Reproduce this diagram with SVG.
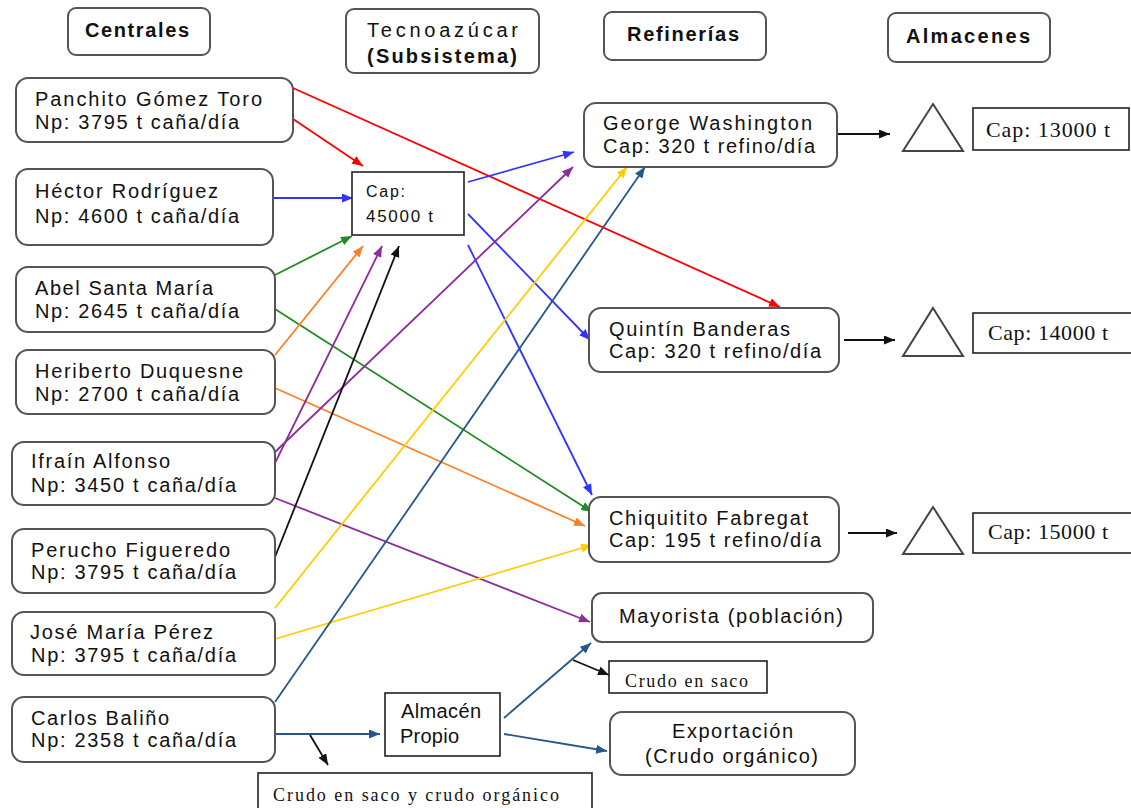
<svg xmlns="http://www.w3.org/2000/svg" width="1131" height="808" viewBox="0 0 1131 808">
<style>
.rn{fill:#fff;stroke:#555;stroke-width:2}
.sq{fill:#fff;stroke:#222;stroke-width:1.6}
.tri{fill:#fff;stroke:#444;stroke-width:2}
.t{font-family:"Liberation Sans",Arial,sans-serif;font-size:20px;fill:#111}
.b{font-family:"Liberation Sans",Arial,sans-serif;font-size:20px;font-weight:bold;fill:#111}
.s{font-family:"Liberation Serif","Times New Roman",serif;font-size:22px;fill:#111}
.s2{font-family:"Liberation Serif","Times New Roman",serif;font-size:18px;fill:#111}
.c line{fill:none;stroke-width:1.8}
</style>
<defs>
<marker id="mr" markerUnits="userSpaceOnUse" markerWidth="11" markerHeight="9" refX="11" refY="4.5" orient="auto"><path d="M0,0 L11,4.5 L0,9 z" fill="#ff0000"/></marker>
<marker id="mb" markerUnits="userSpaceOnUse" markerWidth="11" markerHeight="9" refX="11" refY="4.5" orient="auto"><path d="M0,0 L11,4.5 L0,9 z" fill="#3333ff"/></marker>
<marker id="mg" markerUnits="userSpaceOnUse" markerWidth="11" markerHeight="9" refX="11" refY="4.5" orient="auto"><path d="M0,0 L11,4.5 L0,9 z" fill="#228b22"/></marker>
<marker id="mo" markerUnits="userSpaceOnUse" markerWidth="11" markerHeight="9" refX="11" refY="4.5" orient="auto"><path d="M0,0 L11,4.5 L0,9 z" fill="#ff7f27"/></marker>
<marker id="mp" markerUnits="userSpaceOnUse" markerWidth="11" markerHeight="9" refX="11" refY="4.5" orient="auto"><path d="M0,0 L11,4.5 L0,9 z" fill="#8e2c9c"/></marker>
<marker id="mk" markerUnits="userSpaceOnUse" markerWidth="11" markerHeight="9" refX="11" refY="4.5" orient="auto"><path d="M0,0 L11,4.5 L0,9 z" fill="#111"/></marker>
<marker id="my" markerUnits="userSpaceOnUse" markerWidth="11" markerHeight="9" refX="11" refY="4.5" orient="auto"><path d="M0,0 L11,4.5 L0,9 z" fill="#ffcc00"/></marker>
<marker id="md" markerUnits="userSpaceOnUse" markerWidth="11" markerHeight="9" refX="11" refY="4.5" orient="auto"><path d="M0,0 L11,4.5 L0,9 z" fill="#27578a"/></marker>
</defs>
<rect width="1131" height="808" fill="#fff"/>

<!-- headers -->
<g id="h-centrales"><rect class="rn" x="68" y="8" width="142" height="47" rx="8"/><text class="b" x="85" y="37" textLength="104" lengthAdjust="spacing">Centrales</text></g>
<g id="h-tecno"><rect class="rn" x="346" y="9" width="193" height="64" rx="8"/><text class="t" x="367" y="37" textLength="151" lengthAdjust="spacing">Tecnoazúcar</text><text class="b" x="367" y="63" textLength="150" lengthAdjust="spacing">(Subsistema)</text></g>
<g id="h-refinerias"><rect class="rn" x="604" y="12" width="162" height="48" rx="8"/><text class="b" x="627" y="41" textLength="112" lengthAdjust="spacing">Refinerías</text></g>
<g id="h-almacenes"><rect class="rn" x="888" y="13" width="162" height="49" rx="8"/><text class="b" x="906" y="43" textLength="124" lengthAdjust="spacing">Almacenes</text></g>

<!-- connectors -->
<g id="connectors" class="c">
<line x1="293" y1="88" x2="780" y2="307" stroke="#ff0000" marker-end="url(#mr)"/>
<line x1="293" y1="119" x2="363" y2="166" stroke="#ff0000" marker-end="url(#mr)"/>
<line x1="273" y1="198" x2="353" y2="198" stroke="#3333ff" marker-end="url(#mb)"/>
<line x1="468" y1="182" x2="574" y2="152" stroke="#3333ff" marker-end="url(#mb)"/>
<line x1="468" y1="214" x2="590" y2="340" stroke="#3333ff" marker-end="url(#mb)"/>
<line x1="468" y1="245" x2="592" y2="495" stroke="#3333ff" marker-end="url(#mb)"/>
<line x1="275" y1="275" x2="352" y2="236" stroke="#228b22" marker-end="url(#mg)"/>
<line x1="275" y1="309" x2="592" y2="512" stroke="#228b22" marker-end="url(#mg)"/>
<line x1="275" y1="355" x2="363" y2="246" stroke="#ff7f27" marker-end="url(#mo)"/>
<line x1="275" y1="388" x2="585" y2="526" stroke="#ff7f27" marker-end="url(#mo)"/>
<line x1="275" y1="463" x2="382" y2="246" stroke="#8e2c9c" marker-end="url(#mp)"/>
<line x1="275" y1="452" x2="573" y2="167" stroke="#8e2c9c" marker-end="url(#mp)"/>
<line x1="275" y1="498" x2="590" y2="622" stroke="#8e2c9c" marker-end="url(#mp)"/>
<line x1="275" y1="557" x2="399" y2="246" stroke="#111" marker-end="url(#mk)"/>
<line x1="275" y1="608" x2="627" y2="167" stroke="#ffcc00" marker-end="url(#my)"/>
<line x1="275" y1="639" x2="592" y2="545" stroke="#ffcc00" marker-end="url(#my)"/>
<line x1="275" y1="702" x2="645" y2="167" stroke="#27578a" marker-end="url(#md)"/>
<line x1="275" y1="734" x2="380" y2="734" stroke="#27578a" stroke-width="3" marker-end="url(#md)"/>
<line x1="504" y1="718" x2="591" y2="643" stroke="#27578a" marker-end="url(#md)"/>
<line x1="504" y1="734" x2="607" y2="751" stroke="#27578a" marker-end="url(#md)"/>
<line x1="310" y1="735" x2="328" y2="765" stroke="#111" marker-end="url(#mk)"/>
<line x1="573" y1="660" x2="609" y2="675" stroke="#111" marker-end="url(#mk)"/>
<line x1="838" y1="134" x2="890" y2="134" stroke="#111" marker-end="url(#mk)"/>
<line x1="844" y1="340" x2="895" y2="340" stroke="#111" marker-end="url(#mk)"/>
<line x1="848" y1="533" x2="897" y2="533" stroke="#111" marker-end="url(#mk)"/>
</g>

<!-- centrales -->
<g id="n-panchito"><rect class="rn" x="16" y="78" width="277" height="64" rx="12"/><text class="t" x="35" y="106" textLength="227" lengthAdjust="spacing">Panchito Gómez Toro</text><text class="t" x="35" y="129" textLength="204" lengthAdjust="spacing">Np: 3795 t caña/día</text></g>
<g id="n-hector"><rect class="rn" x="16" y="169" width="257" height="76" rx="12"/><text class="t" x="35" y="198" textLength="183" lengthAdjust="spacing">Héctor Rodríguez</text><text class="t" x="35" y="223" textLength="204" lengthAdjust="spacing">Np: 4600 t caña/día</text></g>
<g id="n-abel"><rect class="rn" x="16" y="267" width="259" height="65" rx="12"/><text class="t" x="35" y="295" textLength="178" lengthAdjust="spacing">Abel Santa María</text><text class="t" x="35" y="318" textLength="204" lengthAdjust="spacing">Np: 2645 t caña/día</text></g>
<g id="n-heriberto"><rect class="rn" x="16" y="350" width="259" height="64" rx="12"/><text class="t" x="35" y="378" textLength="208" lengthAdjust="spacing">Heriberto Duquesne</text><text class="t" x="35" y="401" textLength="204" lengthAdjust="spacing">Np: 2700 t caña/día</text></g>
<g id="n-ifrain"><rect class="rn" x="12" y="442" width="263" height="63" rx="12"/><text class="t" x="31" y="468" textLength="139" lengthAdjust="spacing">Ifraín Alfonso</text><text class="t" x="31" y="492" textLength="205" lengthAdjust="spacing">Np: 3450 t caña/día</text></g>
<g id="n-perucho"><rect class="rn" x="12" y="529" width="263" height="64" rx="12"/><text class="t" x="31" y="557" textLength="199" lengthAdjust="spacing">Perucho Figueredo</text><text class="t" x="31" y="579" textLength="205" lengthAdjust="spacing">Np: 3795 t caña/día</text></g>
<g id="n-jose"><rect class="rn" x="12" y="612" width="263" height="63" rx="12"/><text class="t" x="30" y="639" textLength="183" lengthAdjust="spacing">José María Pérez</text><text class="t" x="31" y="662" textLength="205" lengthAdjust="spacing">Np: 3795 t caña/día</text></g>
<g id="n-carlos"><rect class="rn" x="12" y="697" width="263" height="65" rx="12"/><text class="t" x="31" y="725" textLength="138" lengthAdjust="spacing">Carlos Baliño</text><text class="t" x="31" y="747" textLength="205" lengthAdjust="spacing">Np: 2358 t caña/día</text></g>

<!-- tecnoazucar -->
<g id="n-cap"><rect class="sq" x="352" y="172" width="112" height="63"/><text class="t" style="font-size:16px" x="366" y="197" textLength="39" lengthAdjust="spacing">Cap:</text><text class="t" style="font-size:17px" x="366" y="222" textLength="67" lengthAdjust="spacing">45000 t</text></g>

<!-- refinerias -->
<g id="n-washington"><rect class="rn" x="584" y="103" width="253" height="64" rx="12"/><text class="t" x="603" y="130" textLength="209" lengthAdjust="spacing">George Washington</text><text class="t" x="603" y="153" textLength="212" lengthAdjust="spacing">Cap: 320 t refino/día</text></g>
<g id="n-quintin"><rect class="rn" x="589" y="308" width="250" height="64" rx="12"/><text class="t" x="609" y="336" textLength="181" lengthAdjust="spacing">Quintín Banderas</text><text class="t" x="609" y="358" textLength="212" lengthAdjust="spacing">Cap: 320 t refino/día</text></g>
<g id="n-chiquitito"><rect class="rn" x="589" y="497" width="250" height="65" rx="12"/><text class="t" x="609" y="525" textLength="199" lengthAdjust="spacing">Chiquitito Fabregat</text><text class="t" x="609" y="547" textLength="212" lengthAdjust="spacing">Cap: 195 t refino/día</text></g>
<g id="n-mayorista"><rect class="rn" x="592" y="593" width="281" height="49" rx="10"/><text class="t" x="619" y="623" textLength="224" lengthAdjust="spacing">Mayorista (población)</text></g>
<g id="n-crudosaco"><rect class="sq" x="609" y="661" width="158" height="32"/><text class="s2" x="625" y="687" textLength="123" lengthAdjust="spacing">Crudo en saco</text></g>
<g id="n-exportacion"><rect class="rn" x="610" y="712" width="245" height="63" rx="12"/><text class="t" x="672" y="738" textLength="121" lengthAdjust="spacing">Exportación</text><text class="t" x="645" y="763" textLength="173" lengthAdjust="spacing">(Crudo orgánico)</text></g>
<g id="n-almacen"><rect class="sq" x="385" y="693" width="115" height="63"/><text class="t" x="401" y="718" textLength="80" lengthAdjust="spacing">Almacén</text><text class="t" x="400" y="743" textLength="59" lengthAdjust="spacing">Propio</text></g>
<g id="n-crudosacoorg"><rect class="sq" x="258" y="773" width="334" height="40"/><text class="s2" x="273" y="801" textLength="286" lengthAdjust="spacing">Crudo en saco y crudo orgánico</text></g>

<!-- almacenes -->
<g id="n-alm1"><polygon class="tri" points="933,104 963,151 903,151"/><rect class="sq" x="973" y="108" width="156" height="42"/><text class="s" x="986" y="137" textLength="124" lengthAdjust="spacing">Cap: 13000 t</text></g>
<g id="n-alm2"><polygon class="tri" points="933,308 963,356 903,356"/><rect class="sq" x="973" y="313" width="160" height="40"/><text class="s" x="988" y="340" textLength="120" lengthAdjust="spacing">Cap: 14000 t</text></g>
<g id="n-alm3"><polygon class="tri" points="933,507 963,554 903,554"/><rect class="sq" x="973" y="513" width="160" height="40"/><text class="s" x="988" y="539" textLength="120" lengthAdjust="spacing">Cap: 15000 t</text></g>
</svg>
